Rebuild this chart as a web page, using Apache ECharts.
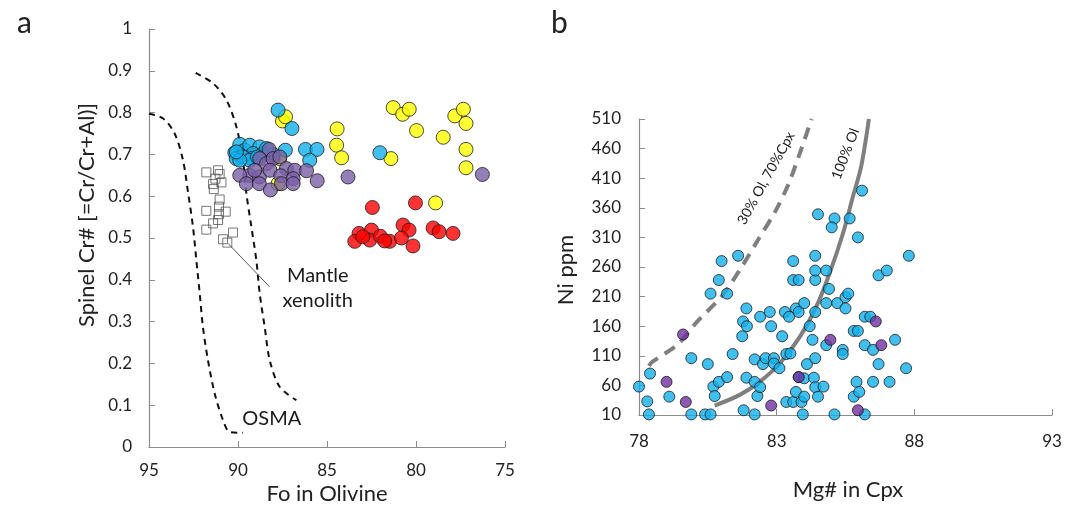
<!DOCTYPE html>
<html>
<head>
<meta charset="utf-8">
<script src="https://cdn.jsdelivr.net/npm/echarts@6/dist/echarts.min.js"></script>
<style>
  html, body { margin: 0; padding: 0; background: #fff; }
  #chart { width: 1072px; height: 506px; }
</style>
</head>
<body>
<div id="chart"></div>
<script>
// panel a: Fo in olivine vs spinel Cr#
const blueA = [[87.75,0.806],[86.97,0.762],[82.03,0.704],[87.34,0.71],[86.21,0.712],[85.56,0.712],[85.97,0.686],
  [90.18,0.704],[89.9,0.724],[89.62,0.71],[89.34,0.722],[88.78,0.718],[89.43,0.694],[89.8,0.694],[89.15,0.702],
  [88.6,0.702],[88.03,0.70],[88.4,0.714],[89.25,0.69],[90.1,0.69],[89.72,0.694],[89.34,0.686],[88.9,0.694],
  [89.9,0.686],[90.09,0.706]];
const yellowA = [[87.5,0.78],[87.33,0.79],[84.43,0.761],[84.46,0.722],[84.18,0.692],[81.41,0.69],[81.28,0.812],
  [80.75,0.796],[80.38,0.808],[79.97,0.757],[78.47,0.741],[77.82,0.792],[77.34,0.808],[77.19,0.774],[77.19,0.712],
  [77.19,0.668],[78.9,0.584],[87.66,0.69],[87.75,0.63]];
const purpleA = [[88.25,0.712],[88.78,0.69],[88.4,0.678],[88.03,0.69],[87.65,0.694],[89.34,0.65],[88.8,0.646],
  [88.2,0.662],[87.28,0.666],[86.81,0.662],[86.15,0.661],[87.6,0.649],[86.9,0.642],[89.9,0.65],[89.53,0.63],
  [88.8,0.63],[88.18,0.615],[87.56,0.63],[86.9,0.63],[85.55,0.637],[83.82,0.646],[76.27,0.652],[89.06,0.662]];
const redA = [[82.45,0.573],[80.03,0.584],[83.2,0.511],[83.44,0.492],[82.5,0.519],[82.6,0.495],[82.0,0.504],
  [81.48,0.492],[81.76,0.493],[80.73,0.531],[80.39,0.519],[80.82,0.5],[80.17,0.481],[79.04,0.524],[78.7,0.515],
  [77.92,0.511],[82.99,0.503]];
const xenolith = [[91.78,0.657],[91.12,0.662],[91.03,0.653],[91.27,0.642],[90.93,0.633],[91.4,0.629],[91.36,0.617],
  [91.03,0.592],[91.78,0.565],[91.07,0.575],[90.69,0.563],[91.07,0.557],[91.12,0.543],[91.4,0.535],[91.78,0.52],
  [90.28,0.513],[90.84,0.497],[90.6,0.489]];
const osmaLeft = [[95,0.797],[94.21,0.786],[93.56,0.75],[93.09,0.686],[92.8,0.607],[92.53,0.527],[92.34,0.447],
  [92.15,0.367],[91.97,0.287],[91.69,0.208],[91.31,0.128],[90.84,0.064],[90.47,0.036],[89.72,0.034]];
const osmaRight = [[92.38,0.895],[91.4,0.87],[90.65,0.83],[90.09,0.766],[89.72,0.686],[89.53,0.607],[89.25,0.527],
  [88.97,0.447],[88.78,0.367],[88.5,0.287],[88.22,0.208],[87.66,0.144],[86.72,0.112]];
const leaderA = [[90.56,0.487],[88.22,0.383]];
const xTicksA = [95, 90, 85, 80, 75];

// panel b: Mg# in Cpx vs Ni ppm
const blueB = [[78.0,58],[78.3,33],[78.36,11],[78.4,80],[79.1,41],[79.9,106],[79.9,11],[80.4,11],[80.6,11],
  [80.5,96],[80.7,58],[80.75,42],[80.9,66],[81.2,74],[80.6,215],[80.9,238],[81.0,270],[81.2,215],[81.6,279],
  [81.4,113],[81.8,18],[81.9,73],[81.75,143],[81.78,168],[81.92,160],[81.9,190],[82.2,11],[82.2,104],[82.2,66],
  [82.3,42],[82.4,57],[82.4,176],[82.5,96],[82.6,106],[82.75,184],[82.8,160],[82.9,106],[82.9,97],[83.1,89],
  [83.2,143],[83.3,184],[83.45,176],[83.35,113],[83.5,114],[83.35,32],[83.6,32],[83.6,270],[83.6,238],[83.8,238],
  [83.7,190],[83.8,184],[84.0,199],[83.8,74],[83.7,49],[83.9,32],[84.0,41],[83.95,11],[84.1,96],[84.0,72],
  [84.2,160],[84.3,137],[84.35,73],[84.4,57],[84.4,106],[84.5,41],[84.7,58],[84.4,184],[84.4,238],[84.4,254],
  [84.4,279],[84.5,349],[84.8,254],[84.8,199],[84.9,223],[84.8,128],[85.1,342],[85.0,327],[85.1,11],[85.2,199],
  [85.4,120],[85.4,113],[85.5,190],[85.5,209],[85.6,215],[85.65,342],[85.8,152],[85.95,152],[85.95,310],[86.1,389],
  [85.8,41],[85.9,66],[86.0,49],[86.2,11],[86.2,128],[86.2,176],[86.4,176],[86.5,120],[86.5,66],[86.7,96],
  [86.7,246],[87.0,254],[87.1,66],[87.3,137],[87.7,89],[87.8,279]];
const purpleB = [[79.6,146],[79.0,66],[79.7,32],[82.8,26],[83.8,74],[84.95,137],[85.95,18],[86.6,168],[86.8,128]];
const mix30 = [[78.36,93],[78.49,100],[79.4,129],[80.12,168],[81.03,212],[81.7,258],[82.3,304],[82.95,354],
  [83.42,399],[83.84,452],[84.27,510]];
const olivine100 = [[80.75,26],[81.66,44],[82.38,66],[83.11,97],[83.84,142],[84.44,193],[84.92,249],[85.41,317],
  [85.77,379],[86.07,430],[86.35,510]];
const yTicksB = [10, 60, 110, 160, 210, 260, 310, 360, 410, 460, 510];

const FONT = 'Lato';
const chart = echarts.init(document.getElementById('chart'), null, { renderer: 'canvas' });

function axisBase() {
  return {
    axisLine: { show: true, lineStyle: { color: '#8c8c8c', width: 1.2 } },
    axisTick: { show: true, inside: true, length: 6, lineStyle: { color: '#8c8c8c' } },
    splitLine: { show: false },
    axisLabel: { color: '#222', fontSize: 17, fontFamily: FONT }
  };
}

function dots(data, color, size, xi) {
  return {
    type: 'scatter', xAxisIndex: xi, yAxisIndex: xi, data: data, symbolSize: size,
    itemStyle: { color: color, borderColor: '#1b1b1b', borderWidth: 1 }, z: 3
  };
}

function curve(data, xi, style, smooth) {
  return {
    type: 'line', xAxisIndex: xi, yAxisIndex: xi, data: data, showSymbol: false, symbol: 'none',
    smooth: smooth, lineStyle: style, silent: true, z: 2
  };
}

// text notes placed in data coordinates
function note(pos, text, xi, opts) {
  return {
    type: 'scatter', xAxisIndex: xi, yAxisIndex: xi, data: [pos], symbolSize: 1, silent: true, z: 5,
    itemStyle: { color: 'rgba(0,0,0,0)' },
    label: Object.assign({ show: true, position: 'inside', formatter: text, color: '#1a1a1a',
      textBorderWidth: 0, opacity: 1, fontFamily: FONT }, opts)
  };
}

const option = {
  animation: false,
  backgroundColor: '#fff',
  grid: [
    { left: 149, top: 29, width: 356, height: 418 },
    { left: 639, top: 119, width: 413, height: 296 }
  ],
  xAxis: [
    Object.assign(axisBase(), { gridIndex: 0, type: 'value', min: 75, max: 95, interval: 5, inverse: true,
      axisLabel: { color: '#222', fontSize: 17, fontFamily: FONT, margin: 15,
        formatter: v => xTicksA.includes(v) ? String(v) : '' } }),
    Object.assign(axisBase(), { gridIndex: 1, type: 'value', min: 78, max: 93, interval: 5,
      axisLabel: { color: '#222', fontSize: 17, fontFamily: FONT, margin: 18 } })
  ],
  yAxis: [
    Object.assign(axisBase(), { gridIndex: 0, type: 'value', min: 0, max: 1, interval: 0.1,
      axisLabel: { color: '#222', fontSize: 17, fontFamily: FONT, margin: 17,
        formatter: v => String(+v.toFixed(1)) } }),
    Object.assign(axisBase(), { gridIndex: 1, type: 'value', min: 10, max: 510, interval: 50,
      axisLabel: { color: '#222', fontSize: 17, fontFamily: FONT, margin: 18,
        formatter: v => yTicksB.includes(v) ? String(v) : '' } })
  ],
  series: [
    curve(osmaLeft, 0, { color: '#111', width: 2, type: [6, 5] }, 0.3),
    curve(osmaRight, 0, { color: '#111', width: 2, type: [6, 5] }, 0.3),
    curve(leaderA, 0, { color: '#555', width: 1 }, false),
    {
      type: 'scatter', xAxisIndex: 0, yAxisIndex: 0, data: xenolith, symbol: 'rect', symbolSize: 9,
      itemStyle: { color: 'rgba(255,255,255,0)', borderColor: '#555', borderWidth: 1 }, z: 3
    },
    dots(yellowA, '#ffff00', 14, 0),
    dots(blueA, '#12b0ec', 14, 0),
    dots(purpleA, '#7b5fa6', 14, 0),
    dots(redA, '#ff0000', 14, 0),
    note([85.52, 0.38], 'Mantle\nxenolith', 0, { fontSize: 20, lineHeight: 25, align: 'center' }),
    note([88.1, 0.069], 'OSMA', 0, { fontSize: 20 }),

    curve(mix30, 1, { color: '#7f7f7f', width: 4, type: [12, 8] }, 0.3),
    curve(olivine100, 1, { color: '#7f7f7f', width: 4 }, 0.3),
    dots(blueB, '#12b0ec', 11, 1),
    dots(purpleB, '#7030a0', 11, 1),
    note([82.62, 410], '30% Ol, 70%Cpx', 1, { fontSize: 14, rotate: 61 }),
    note([85.5, 451], '100% Ol', 1, { fontSize: 14, rotate: 69 })
  ],
  graphic: [
    { type: 'text', left: 17, top: 8, style: { text: 'a', fontSize: 30, fontFamily: FONT, fill: '#222' } },
    { type: 'text', left: 551, top: 8, style: { text: 'b', fontSize: 30, fontFamily: FONT, fill: '#222' } },
    { type: 'text', x: 87, y: 215, rotation: Math.PI / 2,
      style: { text: 'Spinel Cr# [=Cr/Cr+Al)]', fontSize: 22, fontFamily: FONT, fill: '#222',
        align: 'center', verticalAlign: 'middle' } },
    { type: 'text', x: 327, y: 494,
      style: { text: 'Fo in Olivine', fontSize: 22, fontFamily: FONT, fill: '#222',
        align: 'center', verticalAlign: 'middle' } },
    { type: 'text', x: 566, y: 270, rotation: Math.PI / 2,
      style: { text: 'Ni ppm', fontSize: 22, fontFamily: FONT, fill: '#222',
        align: 'center', verticalAlign: 'middle' } },
    { type: 'text', x: 848, y: 490,
      style: { text: 'Mg# in Cpx', fontSize: 22, fontFamily: FONT, fill: '#222',
        align: 'center', verticalAlign: 'middle' } }
  ]
};

chart.setOption(option);
</script>
</body>
</html>
